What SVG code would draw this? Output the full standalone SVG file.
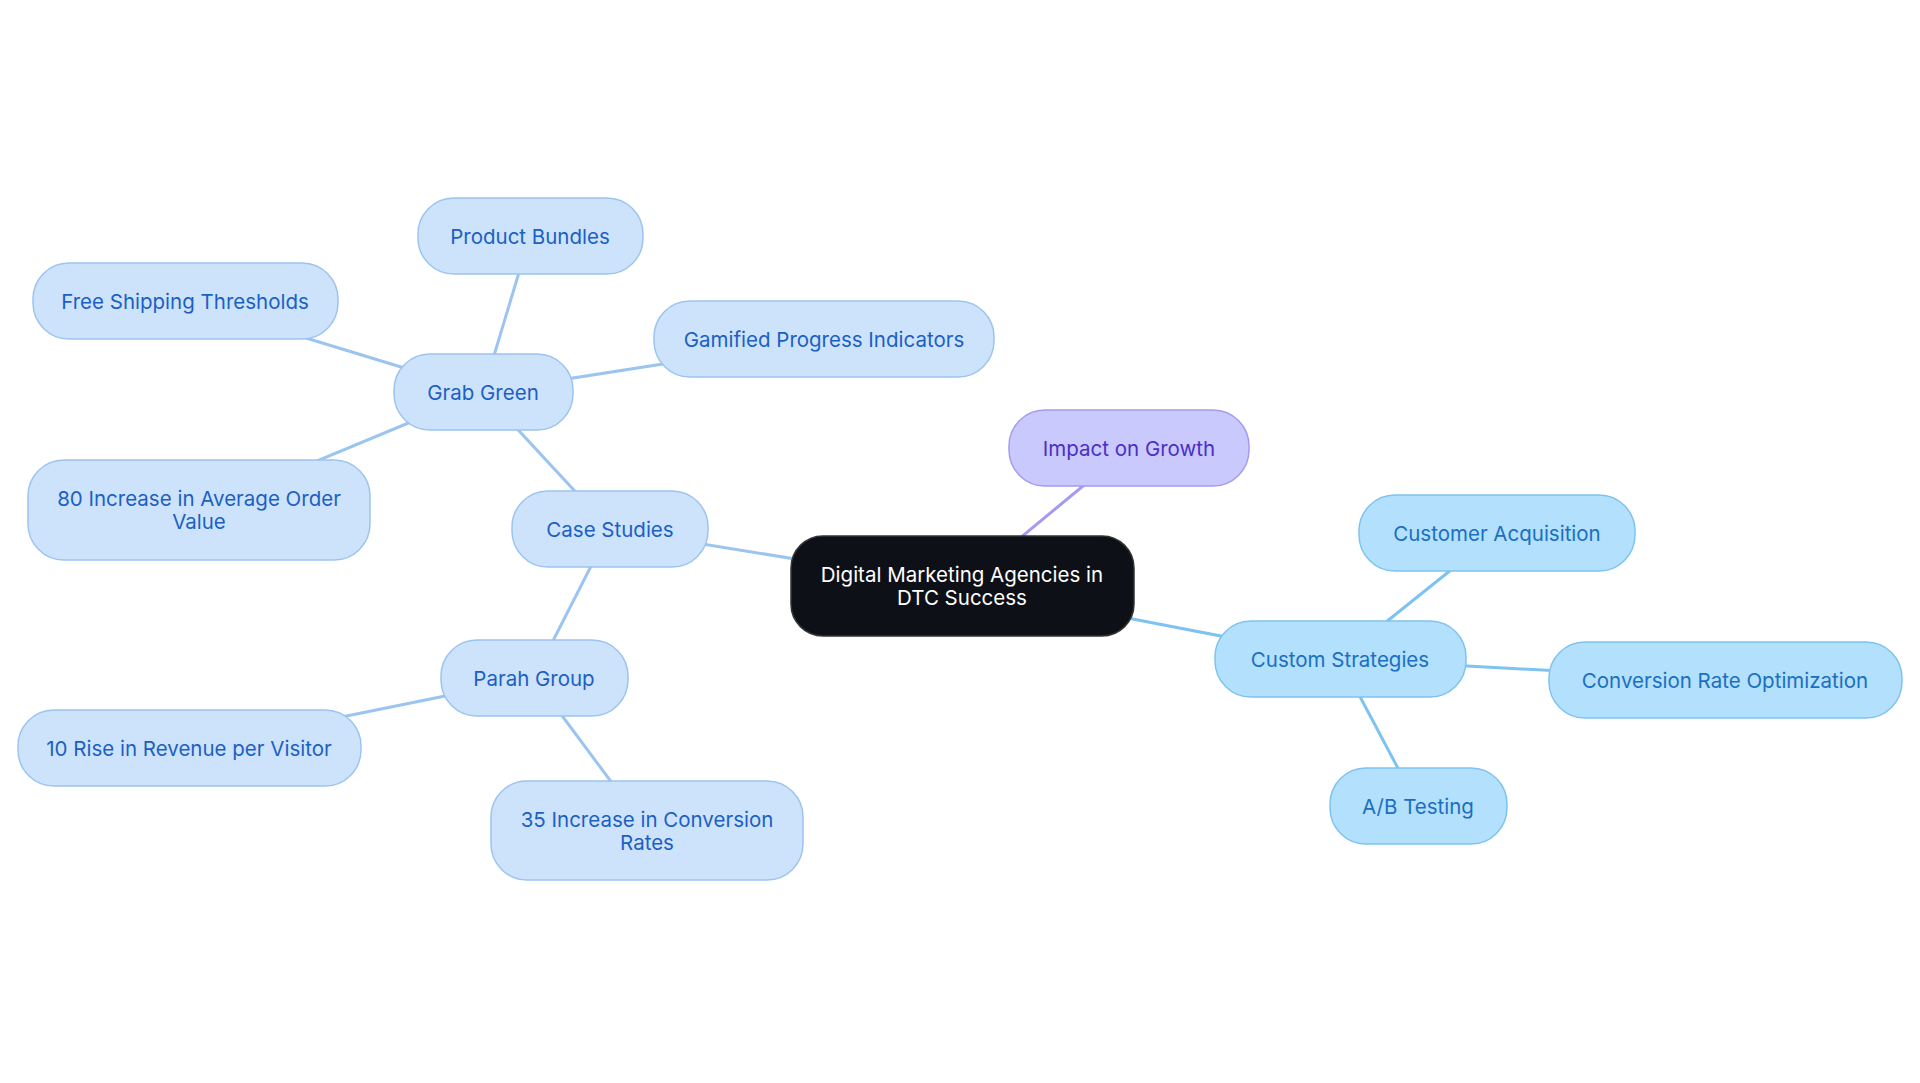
<svg xmlns="http://www.w3.org/2000/svg" width="1920" height="1083" viewBox="0 0 1920 1083">
<style>
text{font-family:Inter,"Noto Sans",sans-serif;font-size:20.5px;text-anchor:middle;dominant-baseline:central}
.c rect{fill:#cde3fb;stroke:#9cc4f0;stroke-width:1.5}
.c text{fill:#1c5fc4}
.s rect{fill:#b3e0fc;stroke:#7ec3f0;stroke-width:1.5}
.s text{fill:#1a6fc0}
.e line{stroke-width:3}
</style>
<rect width="1920" height="1083" fill="#fff"/>
<g id="connectors" class="e">
<line x1="962" y1="586" x2="1129" y2="448" stroke="#a49af0"/>
<line x1="962" y1="586" x2="1340" y2="659" stroke="#7ec3f0"/>
<line x1="1340" y1="659" x2="1497" y2="533" stroke="#7ec3f0"/>
<line x1="1340" y1="659" x2="1725" y2="680" stroke="#7ec3f0"/>
<line x1="1340" y1="659" x2="1418" y2="806" stroke="#7ec3f0"/>
<line x1="962" y1="586" x2="610" y2="529" stroke="#9cc4f0"/>
<line x1="610" y1="529" x2="483" y2="392" stroke="#9cc4f0"/>
<line x1="483" y1="392" x2="530" y2="236" stroke="#9cc4f0"/>
<line x1="483" y1="392" x2="185" y2="301" stroke="#9cc4f0"/>
<line x1="483" y1="392" x2="824" y2="339" stroke="#9cc4f0"/>
<line x1="483" y1="392" x2="199" y2="510" stroke="#9cc4f0"/>
<line x1="610" y1="529" x2="534" y2="678" stroke="#9cc4f0"/>
<line x1="534" y1="678" x2="189" y2="748" stroke="#9cc4f0"/>
<line x1="534" y1="678" x2="647" y2="830" stroke="#9cc4f0"/>
</g>
<g id="center"><rect x="791" y="536" width="343" height="100" rx="32" fill="#0d1117" stroke="#333" stroke-width="1.5"/><text x="962" y="574" fill="#fff">Digital Marketing Agencies in</text><text x="962" y="597" fill="#fff">DTC Success</text></g>
<g id="impact"><rect x="1009" y="410" width="240" height="76" rx="36" fill="#c9c9fd" stroke="#a49af0" stroke-width="1.5"/><text x="1129" y="448" fill="#4a2fc7">Impact on Growth</text></g>
<g id="custom" class="s"><rect x="1215" y="621" width="251" height="76" rx="36"/><text x="1340" y="659">Custom Strategies</text></g>
<g id="acq" class="s"><rect x="1359" y="495" width="276" height="76" rx="36"/><text x="1497" y="533">Customer Acquisition</text></g>
<g id="cro" class="s"><rect x="1549" y="642" width="353" height="76" rx="36"/><text x="1725" y="680">Conversion Rate Optimization</text></g>
<g id="ab" class="s"><rect x="1330" y="768" width="177" height="76" rx="36"/><text x="1418" y="806">A/B Testing</text></g>
<g id="case" class="c"><rect x="512" y="491" width="196" height="76" rx="36"/><text x="610" y="529">Case Studies</text></g>
<g id="grab" class="c"><rect x="394" y="354" width="179" height="76" rx="36"/><text x="483" y="392">Grab Green</text></g>
<g id="bundles" class="c"><rect x="418" y="198" width="225" height="76" rx="36"/><text x="530" y="236">Product Bundles</text></g>
<g id="shipping" class="c"><rect x="33" y="263" width="305" height="76" rx="36"/><text x="185" y="301">Free Shipping Thresholds</text></g>
<g id="gamified" class="c"><rect x="654" y="301" width="340" height="76" rx="36"/><text x="824" y="339">Gamified Progress Indicators</text></g>
<g id="aov" class="c"><rect x="28" y="460" width="342" height="100" rx="36"/><text x="199" y="498">80 Increase in Average Order</text><text x="199" y="521">Value</text></g>
<g id="parah" class="c"><rect x="441" y="640" width="187" height="76" rx="36"/><text x="534" y="678">Parah Group</text></g>
<g id="rpv" class="c"><rect x="18" y="710" width="343" height="76" rx="36"/><text x="189" y="748">10 Rise in Revenue per Visitor</text></g>
<g id="conv" class="c"><rect x="491" y="781" width="312" height="99" rx="36"/><text x="647" y="819">35 Increase in Conversion</text><text x="647" y="842">Rates</text></g>
</svg>
